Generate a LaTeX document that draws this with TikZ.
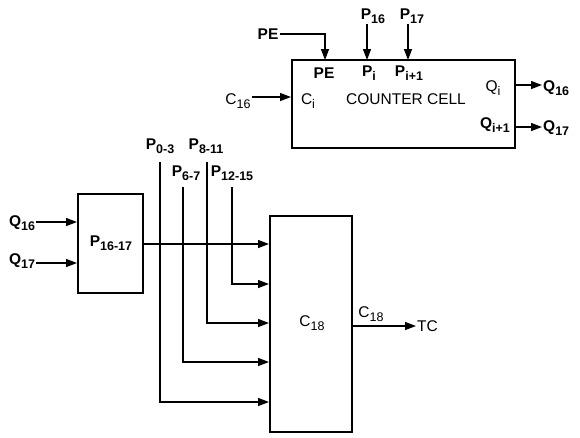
\documentclass[tikz,border=0pt]{standalone}
\usepackage{fontspec}
\setmainfont{Liberation Sans}
\usetikzlibrary{arrows.meta,positioning}
\newcommand{\sbs}[1]{\raisebox{-0.45ex}{\fontsize{12.5}{13}\selectfont #1}}

\begin{document}
\begin{tikzpicture}[x=1pt, y=-1pt,
      blk/.style={rectangle, draw, line width=2pt, inner sep=0pt},
      wire/.style={line width=1.3pt},
      arr/.style={wire, -{Triangle[length=11pt, width=8pt]}},
      lbl/.style={font=\fontsize{15.5}{17}\selectfont\bfseries, inner sep=1pt},
      txt/.style={font=\fontsize{15.5}{17}\selectfont, inner sep=1pt},
    ]
    \useasboundingbox (0,0) rectangle (580,437);
    % counter cell
    \node[blk, minimum width=223pt, minimum height=88pt] (cell) at (403.5,104) {};
    \node[txt] (cname) at (406,99) {COUNTER CELL};
    \node[lbl] (ipe) at (324,73) {PE};
    \node[lbl] (ipi) at (369,73) {P\sbs{i}};
    \node[lbl] (ipj) at (409,73) {P\sbs{i+1}};
    \node[txt] (ici) at (308,101) {C\sbs{i}};
    \node[txt] (iqi) at (493,88) {Q\sbs{i}};
    \node[lbl] (iqj) at (495,125) {Q\sbs{i+1}};
    \node[lbl] (pe) at (268,34) {PE};
    \node[lbl] (p16) at (373,16) {P\sbs{16}};
    \node[lbl] (p17) at (412,16) {P\sbs{17}};
    \node[txt] (c16) at (238,101) {C\sbs{16}};
    \node[lbl, anchor=west] (q16) at (542,88) {Q\sbs{16}};
    \node[lbl, anchor=west] (q17) at (542,128) {Q\sbs{17}};
    \coordinate (pein) at (325,60);
    \coordinate (piin) at (367,60);
    \coordinate (pjin) at (408,60);
    \draw[arr] (pe.east) -| (pein);
    \draw[arr] (piin |- p16.south) -- (piin);
    \draw[arr] (pjin |- p17.south) -- (pjin);
    \draw[arr] (c16.east |- 0,97) -- (cell.west |- 0,97);
    \draw[arr] (cell.east |- 0,85) -- (q16.west |- 0,85);
    \draw[arr] (cell.east |- 0,127) -- (q17.west |- 0,127);
    % p block and c18
    \node[blk, minimum width=65pt, minimum height=99pt] (pblk) at (110.5,243.5) {};
    \node[lbl] (pname) at (111,243) {P\sbs{16-17}};
    \node[blk, minimum width=82pt, minimum height=216pt] (cblk) at (311,324) {};
    \node[txt] (cname2) at (312,323) {C\sbs{18}};
    \node[lbl] (bq16) at (22,223) {Q\sbs{16}};
    \node[lbl] (bq17) at (22,261) {Q\sbs{17}};
    \draw[arr] (bq16.east |- 0,222) -- (pblk.west |- 0,222);
    \draw[arr] (bq17.east |- 0,263) -- (pblk.west |- 0,263);
    \node[lbl] (p03) at (160,146) {P\sbs{0-3}};
    \node[lbl] (p811) at (206,146) {P\sbs{8-11}};
    \node[lbl] (p67) at (186,173) {P\sbs{6-7}};
    \node[lbl] (p1215) at (232,173) {P\sbs{12-15}};
    \draw[arr] (pblk.east |- 0,244) -- (cblk.west |- 0,244);
    \draw[arr] (232,187) |- (cblk.west |- 0,284);
    \draw[arr] (207,162) |- (cblk.west |- 0,323);
    \draw[arr] (183,187) |- (cblk.west |- 0,362);
    \draw[arr] (160,162) |- (cblk.west |- 0,402);
    \node[txt] (cout) at (371,314) {C\sbs{18}};
    \node[txt, anchor=west] (tc) at (416,326) {TC};
    \draw[arr] (cblk.east |- 0,326) -- (tc.west);
  \end{tikzpicture}
\end{document}
